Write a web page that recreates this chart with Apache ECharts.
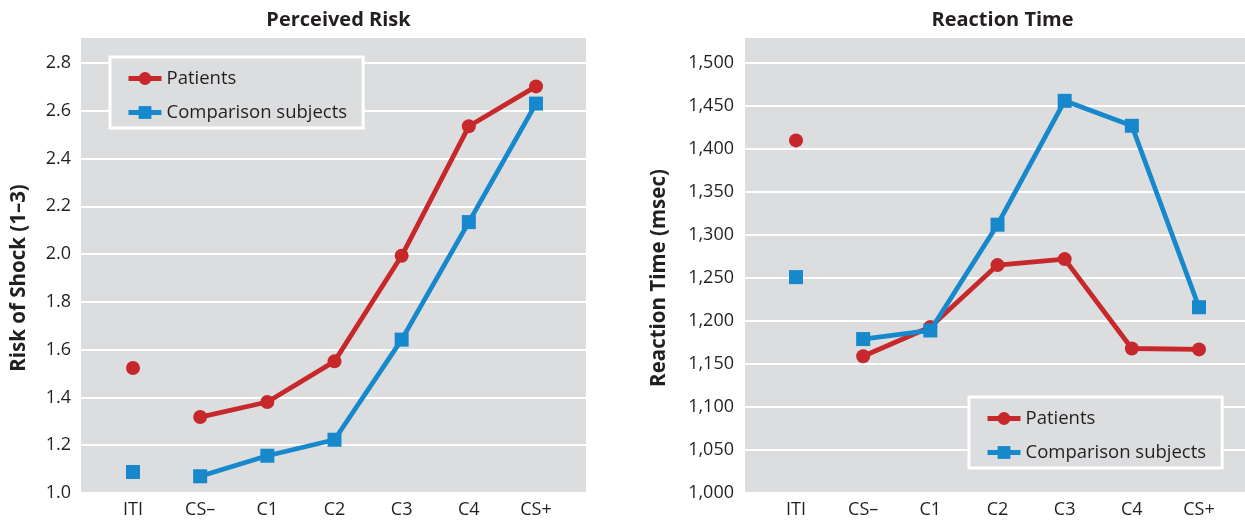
<!DOCTYPE html>
<html><head><meta charset="utf-8">
<script src="https://cdn.jsdelivr.net/npm/echarts@6/dist/echarts.min.js"></script>
<style>html,body{margin:0;padding:0;background:#fff;}#c{width:1245px;height:521px;}</style>
</head><body><div id="c"></div>
<script>
const categories = ['ITI', 'CS–', 'C1', 'C2', 'C3', 'C4', 'CS+'];
const riskPatients   = [1.523, 1.318, 1.381, 1.551, 1.993, 2.535, 2.702];
const riskComparison = [1.088, 1.070, 1.156, 1.223, 1.642, 2.134, 2.630];
const rtPatients     = [1410, 1159, 1193, 1265, 1272, 1168, 1167];
const rtComparison   = [1251, 1179, 1189, 1312, 1456, 1427, 1216];
const riskTicks = { min: 1.0, max: 2.8, interval: 0.2 };
const rtTicks = { min: 1000, max: 1500, interval: 50 };

const RED = '#c6282b', BLUE = '#1788cc', BG = '#dcdddf', TXT = '#231f20';
const FONT = '"Open Sans", sans-serif';

function lineData(arr){ return arr.map((v,i)=> i===0 ? '-' : v); }
function itiData(arr){ return arr.map((v,i)=> i===0 ? v : '-'); }

function seriesFor(idx, pat, comp){
  return [
    {name:'Patients', type:'line', xAxisIndex:idx, yAxisIndex:idx, data:lineData(pat),
     symbol:'circle', symbolSize:14, color:RED, lineStyle:{width:4.8,color:RED}, itemStyle:{color:RED, opacity:1}, z:3},
    {name:'Comparison subjects', type:'line', xAxisIndex:idx, yAxisIndex:idx, data:lineData(comp),
     symbol:'rect', symbolSize:14, color:BLUE, lineStyle:{width:4.8,color:BLUE}, itemStyle:{color:BLUE, opacity:1}, z:4},
    {name:'Patients', type:'scatter', xAxisIndex:idx, yAxisIndex:idx, data:itiData(pat),
     symbol:'circle', symbolSize:14, itemStyle:{color:RED, opacity:1}, z:3},
    {name:'Comparison subjects', type:'scatter', xAxisIndex:idx, yAxisIndex:idx, data:itiData(comp),
     symbol:'rect', symbolSize:14, itemStyle:{color:BLUE, opacity:1}, z:4}
  ];
}

const xAxisBase = {type:'category', data:categories, boundaryGap:false,
  axisLine:{show:false}, axisTick:{show:false}, splitLine:{show:false},
  axisLabel:{color:TXT, fontSize:18, fontFamily:FONT, margin:8}};

const legendBase = {orient:'vertical', data:['Patients','Comparison subjects'],
  backgroundColor:BG, borderColor:'#fff', borderWidth:3, padding:[12,16,6,16],
  itemWidth:33, itemHeight:16, itemGap:15, itemTextGap:9,
  lineStyle:{width:5},
  textStyle:{color:TXT, fontSize:18.5, fontFamily:FONT}};

function gridLineAxis(idx, t){
  return {gridIndex:idx, type:'value', min:t.min, max:t.max, interval:t.interval,
    axisLine:{show:false}, axisTick:{show:false}, axisLabel:{show:false},
    splitLine:{lineStyle:{color:'#fff', width:2}}};
}

const chart = echarts.init(document.getElementById('c'), null, {renderer:'canvas'});
chart.setOption({
  animation:false,
  backgroundColor:'#fff',
  graphic:[
    {type:'rect', shape:{x:81,y:38,width:505,height:455}, style:{fill:BG}, z:-10, silent:true},
    {type:'rect', shape:{x:745,y:38,width:500,height:455}, style:{fill:BG}, z:-10, silent:true}
  ],
  title:[
    {text:'Perceived Risk', left:333.5, top:5, textAlign:'center',
     textStyle:{fontSize:20, fontWeight:'bold', color:TXT, fontFamily:FONT}},
    {text:'Reaction Time', left:997.5, top:5, textAlign:'center',
     textStyle:{fontSize:20, fontWeight:'bold', color:TXT, fontFamily:FONT}}
  ],
  legend:[
    Object.assign({}, legendBase, {left:110, top:57}),
    Object.assign({}, legendBase, {left:969, top:397})
  ],
  grid:[
    {left:133, right:1245-536, top:63, bottom:28},
    {left:796, right:1245-1199, top:63, bottom:28},
    {left:81, right:1245-586, top:63, bottom:28},
    {left:745, right:0, top:63, bottom:28}
  ],
  xAxis:[
    Object.assign({gridIndex:0}, xAxisBase),
    Object.assign({gridIndex:1}, xAxisBase),
    {gridIndex:2, type:'value', show:false},
    {gridIndex:3, type:'value', show:false}
  ],
  yAxis:[
    {gridIndex:0, type:'value', min:riskTicks.min, max:riskTicks.max, interval:riskTicks.interval,
     axisLine:{show:false}, axisTick:{show:false}, splitLine:{show:false},
     axisLabel:{color:TXT, fontSize:18, fontFamily:FONT, margin:62, formatter:v=>v.toFixed(1)},
     name:'Risk of Shock (1–3)', nameLocation:'middle', nameGap:103,
     nameTextStyle:{fontSize:20.5, fontWeight:'bold', color:TXT, fontFamily:FONT}},
    {gridIndex:1, type:'value', min:rtTicks.min, max:rtTicks.max, interval:rtTicks.interval,
     axisLine:{show:false}, axisTick:{show:false}, splitLine:{show:false},
     axisLabel:{color:TXT, fontSize:18, fontFamily:FONT, margin:62,
       formatter:v=>v.toLocaleString('en-US')},
     name:'Reaction Time (msec)', nameLocation:'middle', nameGap:126,
     nameTextStyle:{fontSize:20.5, fontWeight:'bold', color:TXT, fontFamily:FONT}},
    gridLineAxis(2, riskTicks),
    gridLineAxis(3, rtTicks)
  ],
  series:[].concat(seriesFor(0, riskPatients, riskComparison), seriesFor(1, rtPatients, rtComparison))
});
</script></body></html>
